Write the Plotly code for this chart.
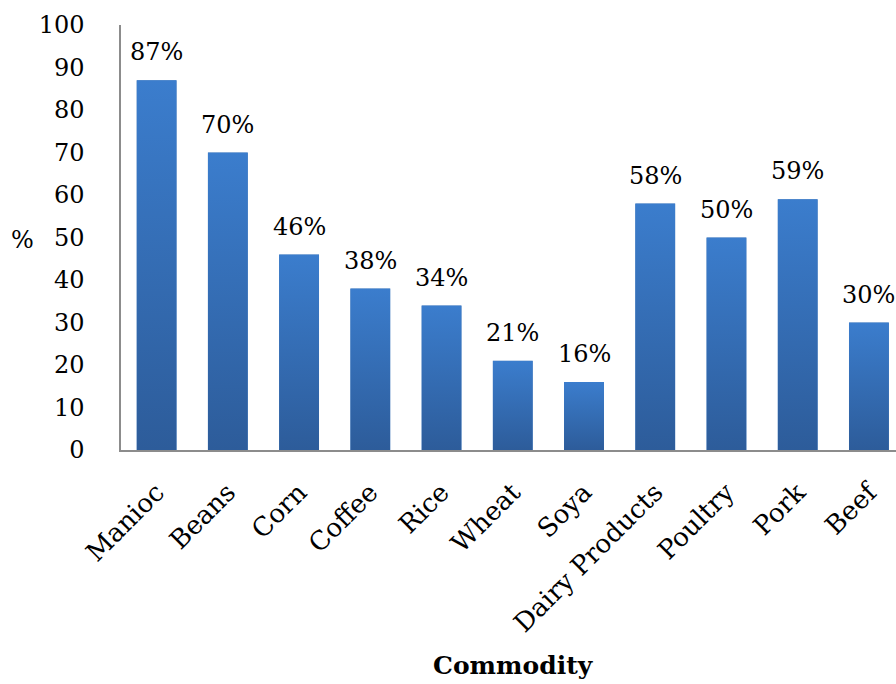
import base64
import plotly.graph_objects as go

# Share of national consumption supplied, by commodity
categories = ["Manioc", "Beans", "Corn", "Coffee", "Rice", "Wheat", "Soya",
              "Dairy Products", "Poultry", "Pork", "Beef"]
values = [87, 70, 46, 38, 34, 21, 16, 58, 50, 59, 30]
labels = ["87%", "70%", "46%", "38%", "34%", "21%", "16%", "58%", "50%", "59%", "30%"]
y_ticks = [0, 10, 20, 30, 40, 50, 60, 70, 80, 90, 100]

FONT = "DejaVu Serif"
TOP_BLUE = "#3b7dcd"
BOTTOM_BLUE = "#2d5c9a"
BAR_WIDTH = 0.56

xs = list(range(len(categories)))

# Vertical gradient used to paint each bar
svg = (
    '<svg xmlns="http://www.w3.org/2000/svg" width="10" height="100" '
    'viewBox="0 0 10 100" preserveAspectRatio="none">'
    '<defs><linearGradient id="g" x1="0" y1="0" x2="0" y2="1">'
    f'<stop offset="0" stop-color="{TOP_BLUE}"/>'
    f'<stop offset="1" stop-color="{BOTTOM_BLUE}"/>'
    '</linearGradient></defs>'
    '<rect x="0" y="0" width="10" height="100" fill="url(#g)"/></svg>'
)
gradient_src = "data:image/svg+xml;base64," + base64.b64encode(svg.encode()).decode()

fig = go.Figure(
    go.Bar(
        x=xs,
        y=values,
        width=BAR_WIDTH,
        marker=dict(color="#3470b8", line=dict(width=0)),
        hoverinfo="skip",
    )
)

images = []
annotations = []
for x, v, lab in zip(xs, values, labels):
    images.append(dict(
        source=gradient_src, xref="x", yref="y",
        x=x - BAR_WIDTH / 2, y=v, sizex=BAR_WIDTH, sizey=v,
        xanchor="left", yanchor="top", sizing="stretch", layer="above",
    ))
    annotations.append(dict(
        x=x, y=v, xref="x", yref="y", text=lab, showarrow=False,
        xanchor="center", yanchor="middle", yshift=28,
        font=dict(family=FONT, size=24, color="#000"),
    ))

# Page geometry (pixels)
W, H = 896, 684
ML, MR, MT, MB = 121, 0, 25, 234
pw, ph = W - ML - MR, H - MT - MB


def paper_x(px):
    return (px - ML) / pw


def paper_y(py):
    return (H - MB - py) / ph


annotations.append(dict(
    x=paper_x(22), y=paper_y(240), xref="paper", yref="paper", text="%",
    showarrow=False, xanchor="center", yanchor="middle",
    font=dict(family=FONT, size=24, color="#000"),
))
annotations.append(dict(
    x=paper_x(513), y=paper_y(665), xref="paper", yref="paper",
    text="<b>Commodity</b>", showarrow=False, xanchor="center", yanchor="middle",
    font=dict(family=FONT, size=25, color="#000"),
))

fig.update_layout(
    width=W, height=H,
    margin=dict(l=ML, r=MR, t=MT, b=MB, pad=0),
    paper_bgcolor="white", plot_bgcolor="white",
    showlegend=False,
    images=images,
    annotations=annotations,
    font=dict(family=FONT, color="#000"),
    xaxis=dict(
        range=[-0.5, 10.38], tickmode="array", tickvals=xs, ticktext=categories,
        tickangle=-45, showgrid=False, zeroline=False, showline=True,
        linecolor="#8c8c8c", linewidth=1.5, ticks="", ticklabelstandoff=15,
        tickfont=dict(family=FONT, size=26, color="#000"),
    ),
    yaxis=dict(
        range=[0, 100], tickmode="array", tickvals=y_ticks,
        showgrid=False, zeroline=False, showline=True,
        linecolor="#8c8c8c", linewidth=1.5, ticks="", ticklabelstandoff=30,
        tickfont=dict(family=FONT, size=24, color="#000"),
    ),
)

fig.write_html("out.html")
